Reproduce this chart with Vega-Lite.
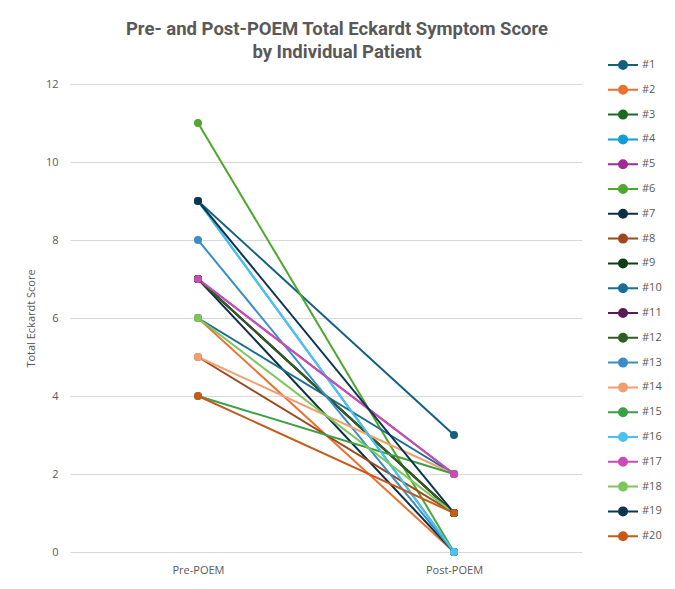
{
  "$schema": "https://vega.github.io/schema/vega-lite/v6.json",
  "width": 512,
  "height": 468,
  "autosize": {"type": "none"},
  "padding": {"left": 70, "top": 84, "right": 93, "bottom": 37},
  "background": "white",
  "title": {
    "text": ["Pre- and Post-POEM Total Eckardt Symptom Score", "by Individual Patient"],
    "font": "Roboto",
    "fontSize": 18.5,
    "fontWeight": "bold",
    "color": "#595959",
    "anchor": "middle",
    "frame": "group",
    "dx": 11,
    "lineHeight": 23,
    "offset": -2
  },
  "data": {
    "values": [
      {"patient": "#1", "time": "Pre-POEM", "score": 9}, {"patient": "#1", "time": "Post-POEM", "score": 3},
      {"patient": "#2", "time": "Pre-POEM", "score": 6}, {"patient": "#2", "time": "Post-POEM", "score": 0},
      {"patient": "#3", "time": "Pre-POEM", "score": 7}, {"patient": "#3", "time": "Post-POEM", "score": 1},
      {"patient": "#4", "time": "Pre-POEM", "score": 9}, {"patient": "#4", "time": "Post-POEM", "score": 0},
      {"patient": "#5", "time": "Pre-POEM", "score": 7}, {"patient": "#5", "time": "Post-POEM", "score": 2},
      {"patient": "#6", "time": "Pre-POEM", "score": 11}, {"patient": "#6", "time": "Post-POEM", "score": 0},
      {"patient": "#7", "time": "Pre-POEM", "score": 7}, {"patient": "#7", "time": "Post-POEM", "score": 0},
      {"patient": "#8", "time": "Pre-POEM", "score": 5}, {"patient": "#8", "time": "Post-POEM", "score": 1},
      {"patient": "#9", "time": "Pre-POEM", "score": 7}, {"patient": "#9", "time": "Post-POEM", "score": 1},
      {"patient": "#10", "time": "Pre-POEM", "score": 6}, {"patient": "#10", "time": "Post-POEM", "score": 2},
      {"patient": "#11", "time": "Pre-POEM", "score": 7}, {"patient": "#11", "time": "Post-POEM", "score": 1},
      {"patient": "#12", "time": "Pre-POEM", "score": 7}, {"patient": "#12", "time": "Post-POEM", "score": 1},
      {"patient": "#13", "time": "Pre-POEM", "score": 8}, {"patient": "#13", "time": "Post-POEM", "score": 0},
      {"patient": "#14", "time": "Pre-POEM", "score": 5}, {"patient": "#14", "time": "Post-POEM", "score": 2},
      {"patient": "#15", "time": "Pre-POEM", "score": 4}, {"patient": "#15", "time": "Post-POEM", "score": 2},
      {"patient": "#16", "time": "Pre-POEM", "score": 9}, {"patient": "#16", "time": "Post-POEM", "score": 0},
      {"patient": "#17", "time": "Pre-POEM", "score": 7}, {"patient": "#17", "time": "Post-POEM", "score": 2},
      {"patient": "#18", "time": "Pre-POEM", "score": 6}, {"patient": "#18", "time": "Post-POEM", "score": 1},
      {"patient": "#19", "time": "Pre-POEM", "score": 9}, {"patient": "#19", "time": "Post-POEM", "score": 1},
      {"patient": "#20", "time": "Pre-POEM", "score": 4}, {"patient": "#20", "time": "Post-POEM", "score": 1}
    ]
  },
  "mark": {"type": "line", "strokeWidth": 2, "point": {"filled": true, "size": 64, "opacity": 1}},
  "encoding": {
    "x": {
      "field": "time",
      "type": "nominal",
      "sort": ["Pre-POEM", "Post-POEM"],
      "scale": {"type": "point", "padding": 0.5},
      "axis": {
        "title": null,
        "labelAngle": 0,
        "domain": false,
        "ticks": false,
        "grid": false,
        "labelPadding": 12,
        "labelColor": "#595959",
        "labelFont": "Open Sans",
        "labelFontSize": 11
      }
    },
    "y": {
      "field": "score",
      "type": "quantitative",
      "scale": {"domain": [0, 12]},
      "axis": {
        "values": [0, 2, 4, 6, 8, 10, 12],
        "title": "Total Eckardt Score",
        "titleFont": "Open Sans",
        "titleFontSize": 11,
        "titleFontWeight": "normal",
        "titleColor": "#595959",
        "titlePadding": 9,
        "domain": false,
        "ticks": false,
        "labelPadding": 12,
        "labelColor": "#595959",
        "labelFont": "Open Sans",
        "labelFontSize": 11,
        "gridColor": "#d9d9d9",
        "gridWidth": 1
      }
    },
    "color": {
      "field": "patient",
      "type": "nominal",
      "scale": {
        "domain": ["#1", "#2", "#3", "#4", "#5", "#6", "#7", "#8", "#9", "#10", "#11", "#12", "#13", "#14", "#15", "#16", "#17", "#18", "#19", "#20"],
        "range": ["#156082", "#E97132", "#196B24", "#0F9ED5", "#A02B93", "#4EA72E", "#0E2F44", "#9A4A1E", "#0F3E14", "#1A6E94", "#5A1A55", "#2F5E22", "#3A8DC5", "#F0A070", "#3AA043", "#4CC0EE", "#C84BB8", "#7CC65A", "#0E3550", "#C55A1A"]
      },
      "legend": {
        "title": null,
        "orient": "none",
        "legendX": 547,
        "legendY": -25,
        "symbolType": "M-3,0H3M-0.8,0A0.8,0.8,0,1,1,0.8,0A0.8,0.8,0,1,1,-0.8,0Z",
        "symbolSize": 100,
        "symbolStrokeWidth": 2,
        "labelOffset": 13,
        "labelColor": "#595959",
        "labelFont": "Open Sans",
        "labelFontSize": 11,
        "rowPadding": 8.8,
        "encode": {
          "symbols": {"update": {"fill": {"scale": "color", "field": "value"}, "fillOpacity": {"value": 1}}}
        }
      }
    }
  },
  "config": {"view": {"stroke": null}}
}
